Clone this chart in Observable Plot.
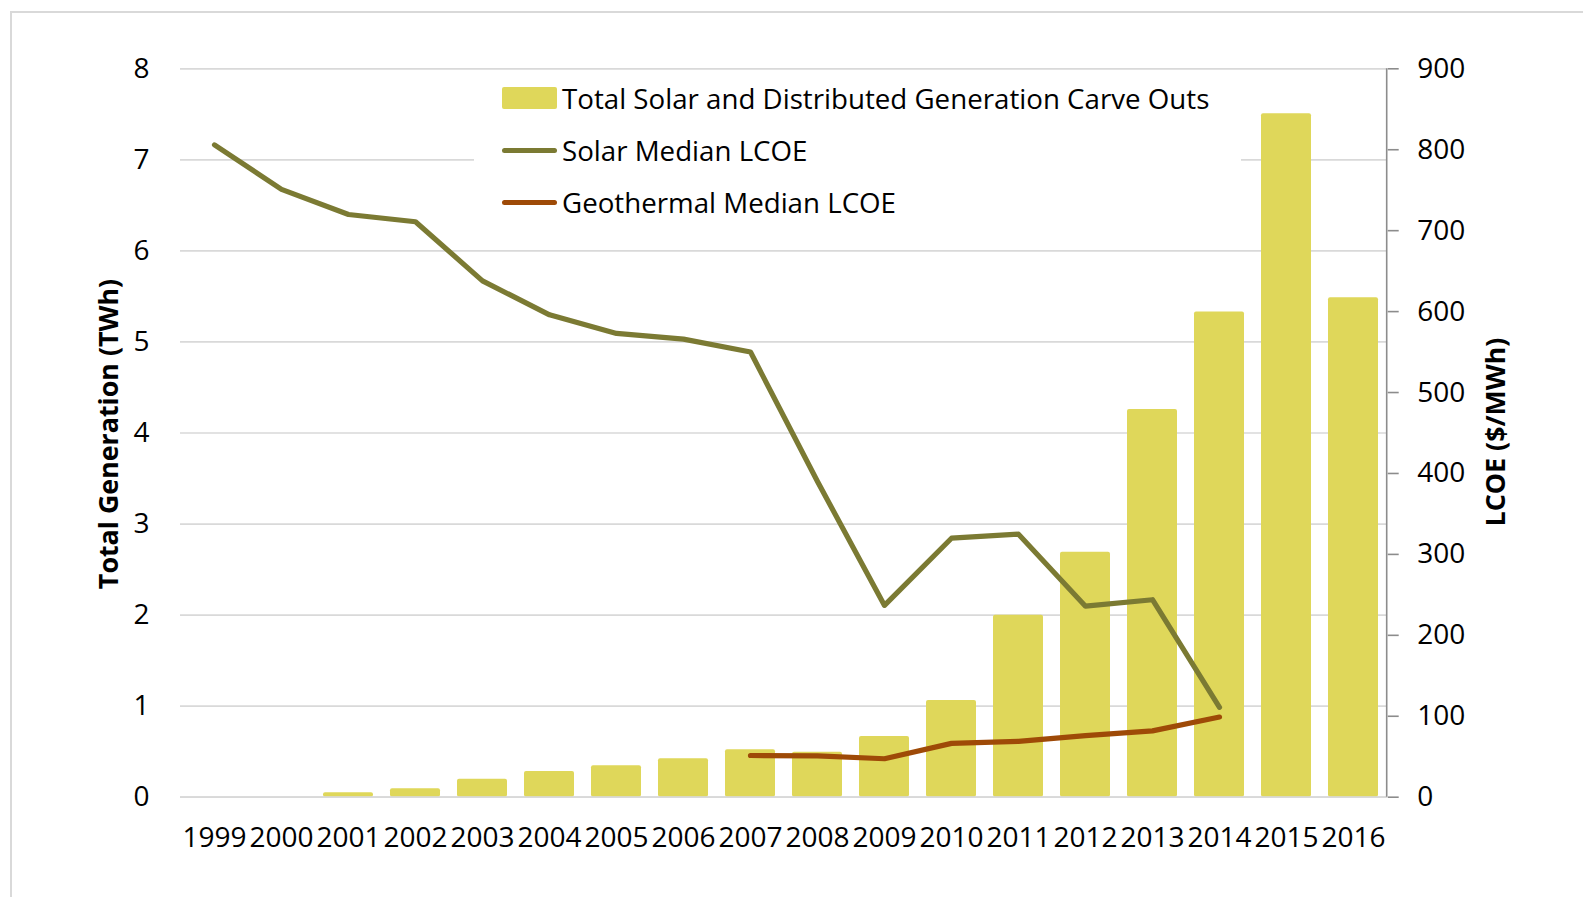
<!DOCTYPE html>
<html>
<head>
<meta charset="utf-8">
<script src="https://cdn.jsdelivr.net/npm/d3@7"></script>
<script src="https://cdn.jsdelivr.net/npm/@observablehq/plot@0.6"></script>
<style>
  html, body { margin: 0; padding: 0; background: #fff; overflow: hidden; }
  #wrap { position: relative; width: 1583px; height: 897px; font-family: 'Open Sans', sans-serif; }
  #border { position: absolute; left: 10px; top: 11px; width: 1600px; height: 920px; border: 2px solid #d9d9d9; box-sizing: border-box; pointer-events: none; }
  #chart { position: absolute; left: 0; top: 0; }
  #legend { position: absolute; left: 474px; top: 72px; width: 767px; height: 158px; background: #fff; padding-left: 28px; box-sizing: border-box; }
  .row { display: flex; align-items: center; height: 52px; font-size: 27.7px; line-height: 36px; color: #000; white-space: nowrap; }
  .sw { width: 55px; margin-right: 5px; flex: none; }
  .sw.bar { height: 22px; border-radius: 2px; }
  .sw.line { height: 5px; border-radius: 3px; }
  .title { position: absolute; font-weight: bold; font-size: 26.8px; line-height: 30px; color: #000; white-space: nowrap; transform: translate(-50%, -50%) rotate(-90deg); }
</style>
</head>
<body>
<div id="wrap">
  <div id="chart"></div>
  <div id="legend"></div>
  <div id="leftTitle" class="title" style="left:108px; top:434px;"></div>
  <div id="rightTitle" class="title" style="left:1495px; top:432px;"></div>
  <div id="border"></div>
</div>
<script>
// ---- data ----
const years = ["1999","2000","2001","2002","2003","2004","2005","2006","2007","2008","2009","2010","2011","2012","2013","2014","2015","2016"];
const generationTWh = [null, null, 0.048, 0.092, 0.198, 0.282, 0.345, 0.422, 0.521, 0.495, 0.667, 1.063, 1.997, 2.689, 4.258, 5.33, 7.506, 5.485];
const solarLCOE = [806, 751, 720, 711, 638, 596, 573, 566, 550, 390, 237, 320, 325, 236, 244, 111, null, null];
const geothermalLCOE = [null, null, null, null, null, null, null, null, 51.5, 51, 47.5, 66.5, 69, 76, 82, 99, null, null];
const genTicks = [0, 1, 2, 3, 4, 5, 6, 7, 8];
const lcoeTicks = [0, 100, 200, 300, 400, 500, 600, 700, 800, 900];
const seriesNames = ["Total Solar and Distributed Generation Carve Outs", "Solar Median LCOE", "Geothermal Median LCOE"];
const colors = ["#dfd75a", "#7b7a33", "#9e4a07"];
const leftTitle = "Total Generation (TWh)";
const rightTitle = "LCOE ($/MWh)";

// ---- derived tables ----
const genMax = 8, lcoeMax = 900;
const toY = v => v * genMax / lcoeMax;
const genData = years.map((y, i) => ({year: y, value: generationTWh[i]})).filter(d => d.value != null);
const solarData = years.map((y, i) => ({year: y, value: solarLCOE[i]})).filter(d => d.value != null);
const geoData = years.map((y, i) => ({year: y, value: geothermalLCOE[i]})).filter(d => d.value != null);

const rightAxisLine = (index, scales, values, dim) => {
  const x = dim.width - dim.marginRight;
  return d3.create("svg:line")
    .attr("x1", x).attr("x2", x)
    .attr("y1", dim.marginTop).attr("y2", dim.height - dim.marginBottom)
    .attr("stroke", "#8c8c8c").attr("stroke-width", 1.6).node();
};

const chart = Plot.plot({
  width: 1583,
  height: 897,
  marginLeft: 180,
  marginRight: 196.3,
  marginTop: 68.3,
  marginBottom: 100.3,
  style: {fontFamily: "'Open Sans', sans-serif", fontSize: "28px", color: "#000", background: "transparent"},
  x: {type: "band", domain: years, paddingInner: 0.25, paddingOuter: 0.125, axis: null, label: null},
  y: {domain: [0, genMax], axis: null, label: null},
  marks: [
    Plot.gridY(genTicks, {stroke: "#d9d9d9", strokeOpacity: 1, strokeWidth: 1.7}),
    Plot.barY(genData, {x: "year", y: "value", fill: colors[0], rx: 2}),
    Plot.ruleY([0], {stroke: "#d9d9d9", strokeWidth: 1.7}),
    Plot.axisX({anchor: "bottom", tickSize: 0, tickPadding: 30, fontSize: 28, fill: "#000", label: null}),
    Plot.axisY(genTicks, {anchor: "left", tickSize: 0, tickPadding: 31, fontSize: 28, fill: "#000", tickFormat: d => String(d), label: null}),
    Plot.axisY(lcoeTicks.map(toY), {anchor: "right", tickSize: 11, tickPadding: 19, stroke: "#8c8c8c", strokeWidth: 1.6, fontSize: 28, fill: "#000", tickFormat: d => String(Math.round(d * lcoeMax / genMax)), label: null}),
    rightAxisLine,
    Plot.line(solarData, {x: "year", y: d => toY(d.value), stroke: colors[1], strokeWidth: 5.2, strokeLinecap: "round", strokeLinejoin: "round"}),
    Plot.line(geoData, {x: "year", y: d => toY(d.value), stroke: colors[2], strokeWidth: 5.2, strokeLinecap: "round", strokeLinejoin: "round"})
  ]
});
document.getElementById("chart").appendChild(chart);

// ---- titles ----
document.getElementById("leftTitle").textContent = leftTitle;
document.getElementById("rightTitle").textContent = rightTitle;

// ---- legend ----
const legend = document.getElementById("legend");
seriesNames.forEach((name, i) => {
  const row = document.createElement("div");
  row.className = "row";
  const sw = document.createElement("div");
  sw.className = "sw " + (i === 0 ? "bar" : "line");
  sw.style.background = colors[i];
  const label = document.createElement("span");
  label.textContent = name;
  row.appendChild(sw);
  row.appendChild(label);
  legend.appendChild(row);
});
</script>
</body>
</html>
